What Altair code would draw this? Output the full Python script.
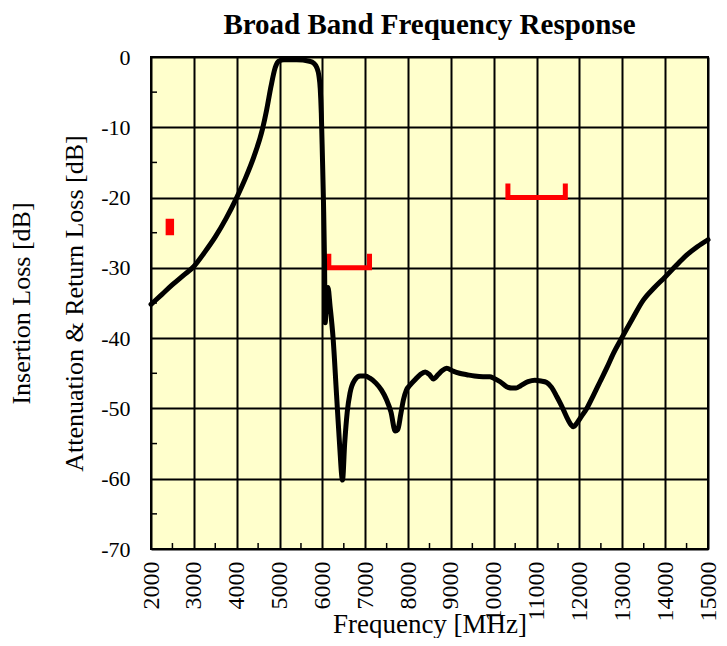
import altair as alt
import pandas as pd

# Measured insertion loss / attenuation curve (MHz, dB)
freq = [2000, 2250, 2500, 2750, 3000, 3250, 3500, 3750, 4000, 4200, 4400, 4600,
        4700, 4800, 4900, 4980, 5100, 5400, 5700, 5800, 5870, 5920, 5950, 5975,
        6000, 6025, 6050, 6065, 6090, 6130, 6180, 6250, 6330, 6400, 6470, 6520,
        6580, 6645, 6750, 6880, 7000, 7110, 7250, 7380, 7500, 7600, 7700, 7760,
        7830, 7890, 7960, 8045, 8150, 8280, 8400, 8500, 8590, 8700, 8800, 8900,
        9050, 9200, 9370, 9550, 9750, 9910, 10000, 10150, 10300, 10420, 10520,
        10620, 10800, 10960, 11100, 11235, 11350, 11470, 11580, 11700, 11800,
        11860, 11950, 12050, 12170, 12320, 12480, 12640, 12790, 12984, 13240,
        13490, 13750, 14000, 14250, 14500, 14750, 15000]
loss = [-35.2, -33.8, -32.4, -31.1, -29.8, -27.8, -25.6, -23.0, -20.0, -17.3, -14.2, -10.3,
        -7.5, -4.2, -1.5, -0.6, -0.4, -0.4, -0.6, -0.9, -1.5, -2.7, -4.5, -8.0,
        -14.0, -20.5, -29.0, -37.8, -35.0, -32.8, -35.5, -40.0, -48.0, -55.0, -60.2, -55.0,
        -50.5, -47.8, -46.0, -45.4, -45.4, -45.7, -46.4, -47.4, -48.8, -50.5, -53.2, -53.0,
        -50.8, -48.8, -47.4, -46.7, -46.0, -45.2, -44.8, -45.2, -45.8, -45.2, -44.6, -44.3,
        -44.7, -45.0, -45.2, -45.4, -45.5, -45.5, -45.7, -46.2, -46.9, -47.1, -47.1,
        -46.8, -46.2, -46.0, -46.1, -46.3, -47.0, -48.3, -49.6, -51.2, -52.3,
        -52.6, -52.0, -51.1, -50.0, -48.2, -46.2, -44.2, -42.2, -40.0, -37.2,
        -34.6, -32.8, -31.3, -29.7, -28.2, -27.0, -26.0]

# Specification masks (red brackets)
spec_freq = [2400, 2400, 2480, 2480,
             6150, 6150, 7100, 7100,
             10330, 10330, 11670, 11670]
spec_db = [-23, -25, -25, -23,
           -28, -30, -30, -28,
           -18, -20, -20, -18]
spec_id = [1, 1, 1, 1, 2, 2, 2, 2, 3, 3, 3, 3]

x_major = list(range(2000, 15001, 1000))
y_major = list(range(-70, 1, 10))
x_minor = list(range(2500, 15000, 1000))
y_minor = list(range(-65, 0, 10))

FONT = "Liberation Serif"

curve = pd.DataFrame({"f": freq, "db": loss, "i": list(range(len(freq)))})
spec = pd.DataFrame({"f": spec_freq, "db": spec_db, "g": spec_id,
                     "i": list(range(len(spec_freq)))})
xm = pd.DataFrame({"f": x_minor})
ym = pd.DataFrame({"db": y_minor})

xscale = alt.Scale(domain=[2000, 15000], nice=False, zero=False)
yscale = alt.Scale(domain=[-70, 0], nice=False, zero=False)

xaxis = alt.Axis(values=x_major, labelAngle=270, labelFont=FONT, labelFontSize=24,
                 labelColor="black", labelPadding=12, labelFlush=False,
                 labelOverlap=False, ticks=False, domain=False, grid=True,
                 gridColor="black", gridWidth=2, gridOpacity=1,
                 labelExpr="format(datum.value, 'd')",
                 title="Frequency [MHz]", titleFont=FONT, titleFontSize=27,
                 titleFontWeight="normal", titleColor="black",
                 titleBaseline="alphabetic", titleY=83)
yaxis = alt.Axis(values=y_major, labelFont=FONT, labelFontSize=22, labelColor="black",
                 labelPadding=21, labelFlush=False, labelOverlap=False,
                 ticks=False, domain=False, grid=True, gridColor="black",
                 gridWidth=2, gridOpacity=1,
                 labelExpr="datum.value < 0 ? '-' + format(-datum.value, 'd') : format(datum.value, 'd')",
                 title=["Insertion Loss [dB]", "Attenuation & Return Loss [dB]"],
                 titleFont=FONT, titleFontSize=26, titleFontWeight="normal",
                 titleColor="black", titleLineHeight=53, titleAngle=270,
                 titleBaseline="alphabetic", titleAlign="center",
                 titleX=-122, titleY=246)

base_line = alt.Chart(curve).mark_line(color="black", strokeWidth=5,
                                       strokeJoin="round", strokeCap="round",
                                       interpolate="monotone").encode(
    x=alt.X("f:Q", scale=xscale, axis=xaxis),
    y=alt.Y("db:Q", scale=yscale, axis=yaxis),
    order="i:Q",
)

spec_line = alt.Chart(spec).mark_line(color="#FF0000", strokeWidth=5,
                                      strokeJoin="miter").encode(
    x=alt.X("f:Q", scale=xscale),
    y=alt.Y("db:Q", scale=yscale),
    detail="g:N",
    order="i:Q",
)

xminor = alt.Chart(xm).mark_rule(color="black", strokeWidth=1.5).encode(
    x=alt.X("f:Q", scale=xscale),
    y=alt.value(492), y2=alt.value(486),
)
yminor = alt.Chart(ym).mark_rule(color="black", strokeWidth=1.5).encode(
    y=alt.Y("db:Q", scale=yscale),
    x=alt.value(0), x2=alt.value(6),
)

chart = alt.layer(xminor, yminor, spec_line, base_line).properties(
    width=557, height=492,
    title=alt.TitleParams("Broad Band Frequency Response", font=FONT, fontSize=29,
                          fontWeight="bold", color="black", anchor="middle",
                          offset=6),
    autosize=alt.AutoSizeParams(type="none"),
    padding={"left": 143, "top": 49, "right": 11, "bottom": 89},
    background="white",
).configure_view(fill="#FFFFCC", stroke="black", strokeWidth=2)

chart.save("out.html", embed_options={"renderer": "svg", "actions": False})
